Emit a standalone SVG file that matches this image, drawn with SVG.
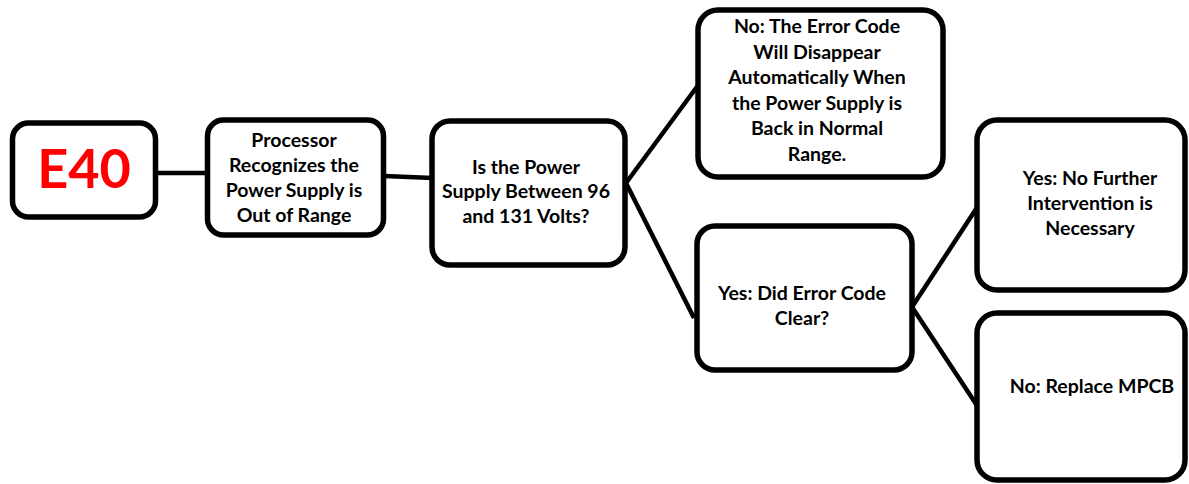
<svg xmlns="http://www.w3.org/2000/svg" width="1189" height="484" viewBox="0 0 1189 484">
<style>
.box{fill:#fff;stroke:#000;stroke-width:5.5}
.t{font-family:Lato,"Liberation Sans",sans-serif;font-weight:bold;font-size:19.5px;fill:#000;text-anchor:middle}
.e{font-family:Lato,"Liberation Sans",sans-serif;font-weight:bold;font-size:54px;fill:#f00;text-anchor:middle}
.c{stroke:#000;stroke-width:4.5;fill:none}
</style>
<rect width="1189" height="484" fill="#fff"/>
<g id="connectors">
<line class="c" x1="156" y1="173" x2="208" y2="173"/>
<line class="c" x1="384" y1="176" x2="433" y2="178"/>
<line class="c" x1="626" y1="183" x2="699" y2="84"/>
<line class="c" x1="626" y1="183" x2="694" y2="318"/>
<line class="c" x1="912" y1="307" x2="978" y2="206"/>
<line class="c" x1="912" y1="307" x2="978" y2="407"/>
</g>
<g id="e40">
<rect class="box" x="12.5" y="123" width="143" height="94" rx="16"/>
<text class="e" x="84" y="188">E40</text>
</g>
<g id="processor">
<rect class="box" x="207.5" y="120" width="176" height="115" rx="16"/>
<text class="t" x="294" y="147">Processor</text>
<text class="t" x="294" y="172">Recognizes the</text>
<text class="t" x="294" y="197">Power Supply is</text>
<text class="t" x="294" y="222">Out of Range</text>
</g>
<g id="voltage">
<rect class="box" x="432" y="121" width="193" height="144" rx="18"/>
<text class="t" x="526" y="174">Is the Power</text>
<text class="t" x="526" y="198">Supply Between 96</text>
<text class="t" x="526" y="223">and 131 Volts?</text>
</g>
<g id="no-auto">
<rect class="box" x="698" y="10" width="245" height="167" rx="20"/>
<text class="t" x="817" y="33">No: The Error Code</text>
<text class="t" x="817" y="59">Will Disappear</text>
<text class="t" x="817" y="84">Automatically When</text>
<text class="t" x="817" y="110">the Power Supply is</text>
<text class="t" x="817" y="135">Back in Normal</text>
<text class="t" x="817" y="161">Range.</text>
</g>
<g id="yes-clear">
<rect class="box" x="697" y="226" width="215" height="144" rx="18"/>
<text class="t" x="802" y="300">Yes: Did Error Code</text>
<text class="t" x="802" y="325">Clear?</text>
</g>
<g id="yes-none">
<rect class="box" x="977" y="120" width="208" height="170" rx="20"/>
<text class="t" x="1090" y="185">Yes: No Further</text>
<text class="t" x="1090" y="210">Intervention is</text>
<text class="t" x="1090" y="235">Necessary</text>
</g>
<g id="no-replace">
<rect class="box" x="977" y="313" width="208" height="167" rx="20"/>
<text class="t" x="1092" y="393">No: Replace MPCB</text>
</g>
</svg>
